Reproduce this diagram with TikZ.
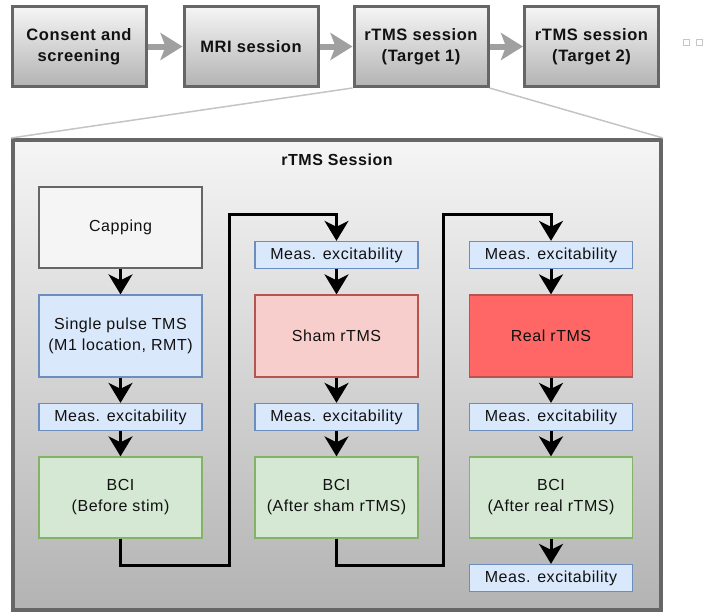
\documentclass[tikz,border=0pt]{standalone}
\usepackage{fontspec}
\setmainfont{Liberation Sans}[LetterSpace=3.5]
\usetikzlibrary{arrows.meta}

\definecolor{edgegray}{HTML}{666666}
\definecolor{shadetop}{HTML}{F5F5F5}
\definecolor{shadebot}{HTML}{B3B3B3}
\definecolor{capfill}{HTML}{F5F5F5}
\definecolor{bluefill}{HTML}{DAE8FC}
\definecolor{blueedge}{HTML}{6C8EBF}
\definecolor{pinkfill}{HTML}{F8CECC}
\definecolor{redfill}{HTML}{FF6666}
\definecolor{rededge}{HTML}{B85450}
\definecolor{greenfill}{HTML}{D5E8D4}
\definecolor{greenedge}{HTML}{82B366}
\definecolor{linkgray}{HTML}{C4C4C4}
\definecolor{pipegray}{HTML}{A0A0A0}
\definecolor{ink}{HTML}{111111}

\tikzset{
  phase/.style={draw=edgegray, line width=3pt, top color=shadetop, bottom color=shadebot,
    minimum width=134pt, minimum height=80pt, align=center, inner sep=0pt,
    font=\fontsize{16.5}{21}\selectfont\bfseries, text=ink},
  stepbox/.style={draw=#1, line width=1.3pt, minimum width=163pt, inner sep=0pt,
    align=center, font=\fontsize{16}{21}\selectfont, text=ink},
  bigbox/.style={minimum height=81pt},
  measbox/.style={stepbox=blueedge, fill=bluefill, minimum height=27pt},
  pipe/.style={draw=pipegray, line width=6pt,
    -{Stealth[length=22pt 0 0,width=27pt 0 0,inset=5pt 0 0]}},
  flow/.style={draw=black, line width=3pt,
    -{Stealth[length=20pt 0 0,width=24pt 0 0,inset=6pt 0 0]}},
  zoomline/.style={draw=linkgray, line width=1.5pt},
  glyphbox/.style={draw=gray!45, line width=0.6pt, minimum size=6pt, inner sep=0pt},
}

\begin{document}
\begin{tikzpicture}[x=1pt, y=-1pt]
\useasboundingbox (0,0) rectangle (707,613);

% study phases
\node[phase] (consent) at (79,46.5)  {Consent and\\screening};
\node[phase] (mri)     at (251,46.5) {MRI session};
\node[phase] (rtms1)   at (421,46.5) {rTMS session\\(Target 1)};
\node[phase] (rtms2)   at (591.5,46.5) {rTMS session\\(Target 2)};
\node[glyphbox] (g1) at (686,42) {};
\node[glyphbox] (g2) at (699,42) {};

\draw[pipe] (consent) -- (mri);
\draw[pipe] (mri) -- (rtms1);
\draw[pipe] (rtms1) -- (rtms2);

% detailed session panel
\node[draw=edgegray, line width=4pt, top color=shadetop, bottom color=shadebot,
      minimum width=648pt, minimum height=470pt, inner sep=0pt] (panel) at (337,375) {};
\draw[zoomline] (rtms1.south west) -- (panel.north west);
\draw[zoomline] (rtms1.south east) -- (panel.north east);
\node[font=\fontsize{16}{19}\selectfont\bfseries, text=ink] (ptitle) at (337,160) {rTMS Session};

% column 1
\node[stepbox=edgegray, bigbox, fill=capfill] (cap) at (120.5,227.5) {Capping};
\node[stepbox=blueedge, bigbox, fill=bluefill, minimum height=82pt] (spt) at (120.5,336) {Single pulse TMS\\(M1 location, RMT)};
\node[measbox] (m1) at (120.5,417) {Meas. excitability};
\node[stepbox=greenedge, bigbox, fill=greenfill] (bci1) at (120.5,497.5) {BCI\\(Before stim)};

% column 2
\node[measbox] (m2a) at (336.5,255) {Meas. excitability};
\node[stepbox=rededge, bigbox, fill=pinkfill, minimum height=82pt] (sham) at (336.5,336) {Sham rTMS};
\node[measbox] (m2b) at (336.5,417) {Meas. excitability};
\node[stepbox=greenedge, bigbox, fill=greenfill] (bci2) at (336.5,497.5) {BCI\\(After sham rTMS)};

% column 3
\node[measbox] (m3a) at (551,255) {Meas. excitability};
\node[stepbox=rededge, bigbox, fill=redfill, minimum height=82pt] (real) at (551,336) {Real rTMS};
\node[measbox] (m3b) at (551,417) {Meas. excitability};
\node[stepbox=greenedge, bigbox, fill=greenfill] (bci3) at (551,497.5) {BCI\\(After real rTMS)};
\node[measbox] (m3c) at (551,578) {Meas. excitability};

% bend points of the column links
\coordinate (low) at (0,565);
\coordinate (up1) at (229,214);
\coordinate (up2) at (443,214);

\draw[flow] (cap) -- (spt);
\draw[flow] (spt) -- (m1);
\draw[flow] (m1) -- (bci1);
\draw[flow] (bci1.south) -- (bci1.south |- low) -| (up1) -| (m2a.north);

\draw[flow] (m2a) -- (sham);
\draw[flow] (sham) -- (m2b);
\draw[flow] (m2b) -- (bci2);
\draw[flow] (bci2.south) -- (bci2.south |- low) -| (up2) -| (m3a.north);

\draw[flow] (m3a) -- (real);
\draw[flow] (real) -- (m3b);
\draw[flow] (m3b) -- (bci3);
\draw[flow] (bci3) -- (m3c);
\end{tikzpicture}
\end{document}
